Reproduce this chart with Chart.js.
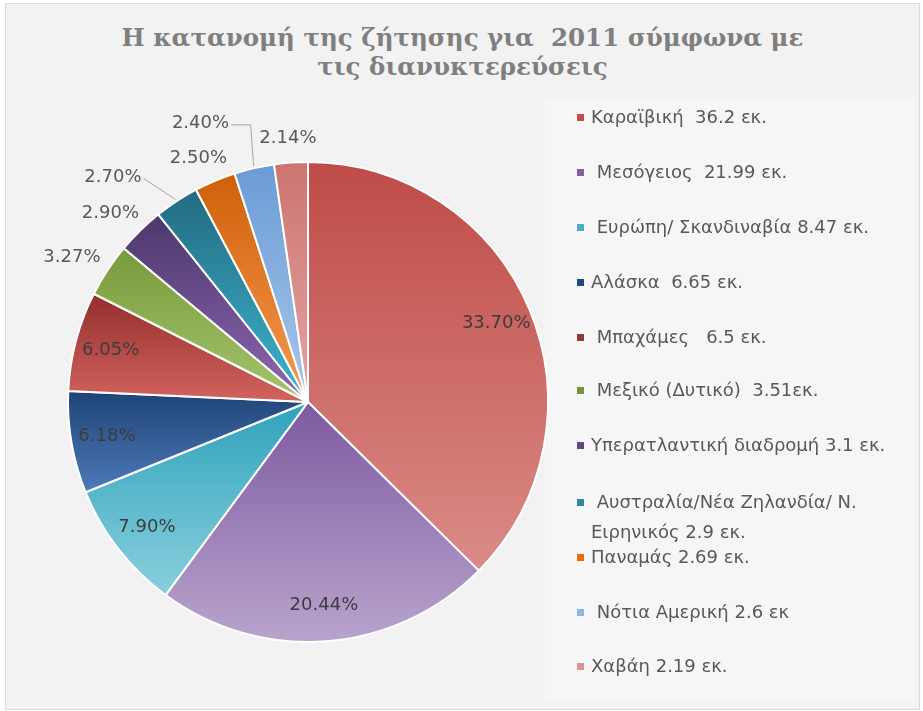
<!DOCTYPE html>
<html>
<head>
<meta charset="utf-8">
<script src="https://cdn.jsdelivr.net/npm/chart.js@4.4.1/dist/chart.umd.min.js"></script>
<style>
html,body{margin:0;padding:0;background:#ffffff;width:923px;height:711px;overflow:hidden;}
#panel{position:absolute;left:5px;top:3px;width:915px;height:707px;background:#f2f2f2;border:1px solid #dadada;box-sizing:border-box;}
#legbg{position:absolute;left:545px;top:98px;width:372px;height:604px;background:#f6f6f6;}
#title{position:absolute;left:5px;width:915px;top:23px;text-align:center;font-family:"DejaVu Serif";font-weight:bold;font-size:24.5px;line-height:29px;color:#7f7f7f;white-space:pre;}
#c{position:absolute;left:0;top:0;}
.li{position:absolute;left:591px;font-family:"DejaVu Sans";font-size:18px;line-height:30px;color:#595959;white-space:pre;}
.sw{position:absolute;left:577px;width:7px;height:7px;}
</style>
</head>
<body>
<div id="panel"></div>
<div id="legbg"></div>
<div id="title"></div>
<canvas id="c" width="923" height="711"></canvas>
<div id="legend"></div>
<script>
// ---- data ----
const titleLines = ["Η κατανομή της ζήτησης για  2011 σύμφωνα με", "τις διανυκτερεύσεις"];
const categories = [
  "Καραϊβική  36.2 εκ.",
  " Μεσόγειος  21.99 εκ.",
  " Ευρώπη/ Σκανδιναβία 8.47 εκ.",
  "Αλάσκα  6.65 εκ.",
  " Μπαχάμες   6.5 εκ.",
  " Μεξικό (Δυτικό)  3.51εκ.",
  "Υπερατλαντική διαδρομή 3.1 εκ.",
  " Αυστραλία/Νέα Ζηλανδία/ Ν.\nΕιρηνικός 2.9 εκ.",
  "Παναμάς 2.69 εκ.",
  " Νότια Αμερική 2.6 εκ",
  "Χαβάη 2.19 εκ."
];
const values = [36.2, 21.99, 8.47, 6.65, 6.5, 3.51, 3.1, 2.9, 2.69, 2.6, 2.19];
const percentLabels = ["33.70%", "20.44%", "7.90%", "6.18%", "6.05%", "3.27%", "2.90%", "2.70%", "2.50%", "2.40%", "2.14%"];

// ---- styles ----
const topColors    = ["#bf4b47","#7d5aa0","#2fa2bc","#1e4476","#922f2c","#779a3b","#4b386b","#236b80","#cf600a","#6b9bd6","#cc7470"];
const bottomColors = ["#da8b87","#b9a4cd","#8ad0dd","#4f7aba","#d3635f","#a7c46b","#8f66b3","#3cb5d1","#f69b50","#a8c8ea","#e4a5a3"];
const legendColors = ["#c0504d","#8064a2","#4bacc6","#1f497d","#953735","#77933c","#5f497a","#31859c","#e46c0a","#8eb4e3","#d99694"];

document.getElementById('title').textContent = titleLines.join('\n');

// HTML legend
const legendRowsY = [117,172,227,282,337,390,445,502,557,612,666];
const leg = document.getElementById('legend');
categories.forEach((lab, i) => {
  const lines = lab.split('\n');
  lines.forEach((ln, k) => {
    const d = document.createElement('div');
    d.className = 'li';
    d.style.top = (legendRowsY[i] - 15 + k * 30) + 'px';
    d.textContent = ln;
    leg.appendChild(d);
  });
  const s = document.createElement('div');
  s.className = 'sw';
  s.style.top = (legendRowsY[i] - 3) + 'px';
  s.style.background = legendColors[i];
  leg.appendChild(s);
});

function sliceGradient(context) {
  const chart = context.chart;
  const i = context.dataIndex;
  const ca = chart.chartArea;
  if (!ca || i === undefined) return legendColors[i] || '#cccccc';
  const cx = (ca.left + ca.right) / 2, cy = (ca.top + ca.bottom) / 2;
  const R = Math.min(ca.right - ca.left, ca.bottom - ca.top) / 2;
  const total = values.reduce((a, b) => a + b, 0);
  let cum = 0;
  for (let k = 0; k < i; k++) cum += values[k];
  const a0 = -Math.PI / 2 + 2 * Math.PI * cum / total;
  const a1 = a0 + 2 * Math.PI * values[i] / total;
  const ys = [cy, cy + R * Math.sin(a0), cy + R * Math.sin(a1)];
  for (let q = -4; q <= 8; q++) {
    const a = q * Math.PI / 2;
    if (a > a0 && a < a1) ys.push(cy + R * Math.sin(a));
  }
  const minY = Math.min(...ys), maxY = Math.max(...ys);
  const g = chart.ctx.createLinearGradient(0, minY, 0, maxY + 0.01);
  g.addColorStop(0, topColors[i]);
  g.addColorStop(1, bottomColors[i]);
  return g;
}

const labelPlugin = {
  id: 'pctLabels',
  afterDatasetsDraw(chart, args, opts) {
    const ctx = chart.ctx;
    const meta = chart.getDatasetMeta(0);
    meta.data.forEach((arc, i) => {
      const p = arc.getProps(['x','y','startAngle','endAngle','outerRadius'], true);
      const mid = (p.startAngle + p.endAngle) / 2;
      const R = p.outerRadius;
      const txt = percentLabels[i];
      ctx.save();
      ctx.font = opts.font;
      ctx.textAlign = 'center';
      ctx.textBaseline = 'middle';
      if (i < opts.insideCount) {
        ctx.fillStyle = opts.insideColor;
        ctx.fillText(txt, p.x + Math.cos(mid) * R * opts.insideR, p.y + Math.sin(mid) * R * opts.insideR);
      } else {
        const n = opts.nudges[i] || {da: 0, dr: 0};
        const a = mid + n.da * Math.PI / 180;
        const r = R + opts.gap + n.dr;
        const w = ctx.measureText(txt).width, h = opts.boxH;
        const lx = p.x + (r + w / 2) * Math.cos(a);
        const ly = p.y + (r + h / 2) * Math.sin(a);
        ctx.fillStyle = opts.outsideColor;
        ctx.fillText(txt, lx, ly);
        if (n.dr) {
          const ax = p.x + (R + 2) * Math.cos(mid), ay = p.y + (R + 2) * Math.sin(mid);
          const sx = lx + w / 2 + 2, sy = ly + 1;
          ctx.strokeStyle = opts.leaderColor;
          ctx.lineWidth = 1;
          ctx.beginPath();
          ctx.moveTo(sx, sy);
          if (Math.abs(ay - sy) > Math.abs(ax - sx)) ctx.lineTo(ax - 3, sy);
          ctx.lineTo(ax, ay);
          ctx.stroke();
        }
      }
      ctx.restore();
    });
  }
};

new Chart(document.getElementById('c'), {
  type: 'pie',
  data: {
    labels: categories,
    datasets: [{
      data: values,
      backgroundColor: sliceGradient,
      borderColor: '#ffffff',
      borderWidth: 2
    }]
  },
  options: {
    responsive: false,
    animation: false,
    layout: { padding: { left: 67, right: 374, top: 161, bottom: 68 } },
    plugins: {
      legend: { display: false },
      tooltip: { enabled: false },
      pctLabels: {
        font: '18px "DejaVu Sans"',
        insideCount: 5,
        insideR: 0.85,
        insideColor: '#3d3d3d',
        outsideColor: '#595959',
        gap: 14,
        boxH: 20,
        leaderColor: '#a6a6a6',
        nudges: { 7: {da: -6, dr: 26}, 9: {da: -7, dr: 32} }
      }
    }
  },
  plugins: [labelPlugin]
});
</script>
</body>
</html>
